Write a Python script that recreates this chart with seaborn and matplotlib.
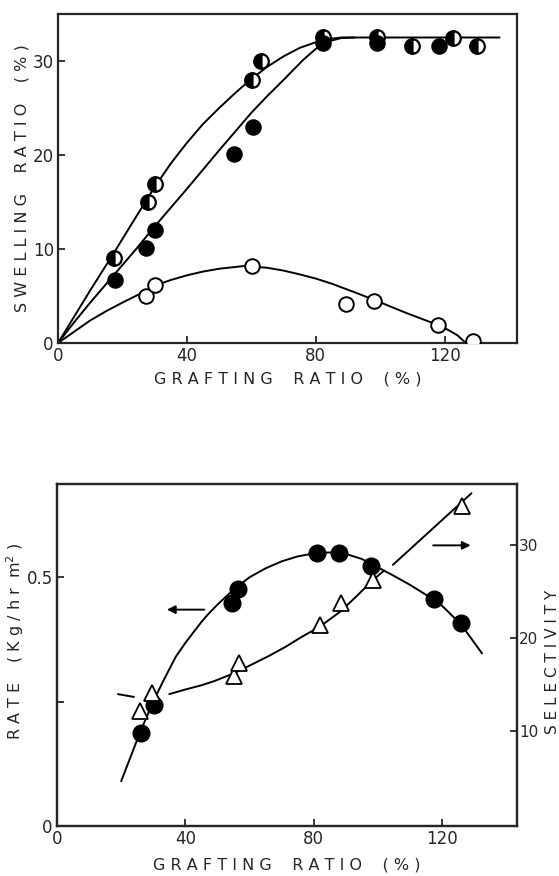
import matplotlib
matplotlib.use("Agg")
import matplotlib.pyplot as plt
import seaborn as sns
import numpy as np
import pandas as pd

# ---------------- data: top panel (swelling ratio) ----------------
half_x = [17.4, 28.0, 30.2, 60.3, 62.9, 82.2, 98.9, 109.8, 122.6, 130.0]
half_y = [9.0, 15.05, 16.9, 28.0, 30.0, 32.6, 32.6, 31.6, 32.4, 31.6]

filled_x = [17.6, 27.4, 30.2, 54.7, 60.6, 82.2, 98.9, 118.3]
filled_y = [6.7, 10.1, 12.05, 20.1, 23.0, 31.9, 31.9, 31.6]

open_x = [27.2, 30.2, 60.3, 89.4, 98.1, 117.8, 128.9]
open_y = [5.0, 6.15, 8.2, 4.2, 4.5, 1.9, 0.2]

upper_curve_x = [0, 5, 10, 17, 24, 30, 35, 40, 45, 50, 55, 60, 65, 70, 75, 80, 84, 88,
                 92, 100, 110, 120, 130, 137]
upper_curve_y = [0, 2.8, 5.6, 9.4, 13.3, 16.6, 19.1, 21.3, 23.3, 25.0, 26.6, 28.1, 29.4,
                 30.5, 31.4, 32.0, 32.35, 32.5, 32.5, 32.5, 32.5, 32.5, 32.5, 32.5]

middle_curve_x = [0, 5, 10, 17, 24, 30, 40, 50, 60, 65, 70, 76, 80, 84, 88, 92]
middle_curve_y = [0, 2.2, 4.3, 7.1, 9.9, 12.4, 16.4, 20.5, 24.5, 26.3, 28.0, 30.1, 31.3,
                  32.1, 32.45, 32.5]

lower_curve_x = [0, 5, 10, 15, 20, 27, 30, 35, 40, 45, 50, 58, 65, 70, 75, 80, 85, 92,
                 98, 103, 108, 113, 118, 121, 124, 126.5]
lower_curve_y = [0, 1.2, 2.4, 3.4, 4.3, 5.5, 6.1, 6.7, 7.2, 7.6, 7.9, 8.2, 8.0, 7.7, 7.3,
                 6.85, 6.3, 5.4, 4.6, 3.9, 3.2, 2.55, 1.9, 1.4, 0.8, 0.0]

# ---------------- data: bottom panel (rate & selectivity) ----------------
rate_x = [26.2, 30.1, 54.6, 56.3, 81.1, 88.0, 98.0, 117.5, 125.9]
rate_y = [0.187, 0.244, 0.449, 0.476, 0.549, 0.549, 0.523, 0.457, 0.4085]

rate_curve_x = [20, 23, 26, 30, 33, 37, 40, 42, 45, 47, 50, 55, 60, 65, 70, 75, 80, 85,
                90, 95, 100, 105, 110, 115, 120, 126, 132.5]
rate_curve_y = [0.09, 0.14, 0.19, 0.25, 0.29, 0.34, 0.368, 0.385, 0.41, 0.425, 0.445,
                0.475, 0.50, 0.518, 0.532, 0.542, 0.548, 0.55, 0.547, 0.537, 0.52,
                0.503, 0.485, 0.465, 0.443, 0.405, 0.347]

sel_x = [26.0, 29.5, 55.2, 56.6, 81.9, 88.4, 98.4, 126.2]
sel_y = [12.2, 14.1, 16.0, 17.4, 21.4, 23.8, 26.25, 34.2]

# selectivity curve drawn in pieces (gaps where it passes behind the rate curve)
sel_seg1_x = [19, 24]
sel_seg1_y = [14.0, 13.7]
sel_seg2_x = [35, 40, 45, 49, 55.2, 60.2, 66, 71.3, 76, 81.9, 88.4, 93.6, 98.4, 102]
sel_seg2_y = [14.0, 14.5, 14.95, 15.4, 16.25, 17.1, 18.1, 19.1, 20.1, 21.25, 22.9, 24.6,
              26.25, 27.3]
sel_seg3_x = [104.7, 129.2]
sel_seg3_y = [27.9, 35.6]

x_ticks = [0, 40, 80, 120]
swell_ticks = [0, 10, 20, 30]
rate_ticks = [0, 0.25, 0.5]
rate_ticklabels = ["0", "", "0.5"]
sel_ticks = [10, 20, 30]

# ---------------- styling ----------------
sns.set_style("ticks")
plt.rcParams["font.family"] = ["DejaVu Sans"]
plt.rcParams["axes.linewidth"] = 1.6
FS = 12
LFS = 11.5

fig = plt.figure(figsize=(5.59, 8.76), dpi=100)
ax1 = fig.add_axes([58 / 559, (876 - 343) / 876, 459 / 559, 329 / 876])
ax2 = fig.add_axes([57 / 559, (876 - 826) / 876, 460 / 559, 342 / 876])

LW = 1.4
for cx, cy in [(upper_curve_x, upper_curve_y), (middle_curve_x, middle_curve_y),
               (lower_curve_x, lower_curve_y)]:
    sns.lineplot(x=cx, y=cy, ax=ax1, color="black", lw=LW, sort=False, estimator=None)

ax1.plot(half_x, half_y, "o", ms=10.5, mfc="black", mfcalt="white", fillstyle="left",
         mec="black", mew=1.6, zorder=5)
ax1.plot(filled_x, filled_y, "o", ms=10.5, mfc="black", mec="black", mew=1.4, zorder=5)
ax1.plot(open_x, open_y, "o", ms=10.5, mfc="white", mec="black", mew=1.4, zorder=5)

ax1.set_xlim(0, 142.4)
ax1.set_ylim(0, 35)
ax1.set_xticks(x_ticks)
ax1.set_yticks(swell_ticks)
ax1.tick_params(direction="in", length=5, width=1.3, labelsize=FS, pad=3)
ax1.set_xlabel("G R A F T I N G    R A T I O    ( % )", fontsize=LFS)
ax1.set_ylabel("S W E L L I N G    R A T I O    ( % )", fontsize=LFS)
ax1.xaxis.set_label_coords(0.5, -0.088)
ax1.yaxis.set_label_coords(-0.062, 0.5)

# bottom panel
sns.lineplot(x=rate_curve_x, y=rate_curve_y, ax=ax2, color="black", lw=LW, sort=False,
             estimator=None)
ax2.plot(rate_x, rate_y, "o", ms=12, mfc="black", mec="black", zorder=5)
ax2.set_xlim(0, 143.4)
ax2.set_ylim(0, 0.6876)
ax2.set_xticks(x_ticks)
ax2.set_yticks(rate_ticks)
ax2.set_yticklabels(rate_ticklabels)
ax2.tick_params(direction="in", length=5, width=1.3, labelsize=FS, pad=3)
ax2.set_xlabel("G R A F T I N G    R A T I O    ( % )", fontsize=LFS)
ax2.set_ylabel("R A T E    ( K g / h r  m$^{2}$ )", fontsize=LFS)
ax2.xaxis.set_label_coords(0.5, -0.092)
ax2.yaxis.set_label_coords(-0.068, 0.54)
ax2.annotate("", xy=(33.4, 0.435), xytext=(46.8, 0.435),
             arrowprops=dict(arrowstyle="-|>", color="black", lw=1.4, mutation_scale=12))

ax3 = ax2.twinx()
for sx, sy in [(sel_seg1_x, sel_seg1_y), (sel_seg2_x, sel_seg2_y), (sel_seg3_x, sel_seg3_y)]:
    sns.lineplot(x=sx, y=sy, ax=ax3, color="black", lw=LW, sort=False, estimator=None)
ax3.plot(sel_x, sel_y, "^", ms=11, mfc="white", mec="black", mew=1.3, zorder=5)
ax3.set_ylim(-0.18, 36.6)
ax3.set_yticks(sel_ticks)
ax3.tick_params(direction="in", length=5, width=1.3, labelsize=11, pad=1.5)
ax3.set_ylabel("S E L E C T I V I T Y", fontsize=11)
ax3.yaxis.set_label_coords(1.06, 0.48)
ax3.annotate("", xy=(129.8, 30), xytext=(116.4, 30),
             arrowprops=dict(arrowstyle="-|>", color="black", lw=1.4, mutation_scale=12))

for a in (ax1, ax2, ax3):
    for s in a.spines.values():
        s.set_visible(True)
        s.set_linewidth(1.6)

fig.savefig("out.png", dpi=100)
